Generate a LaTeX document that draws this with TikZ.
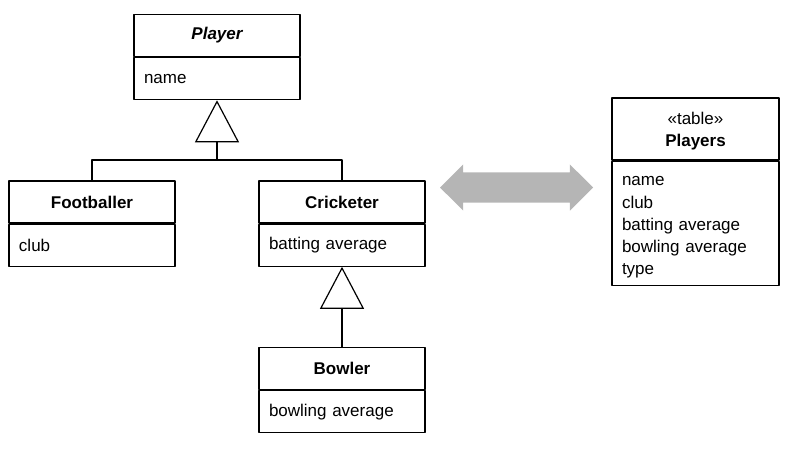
\documentclass[tikz,border=0pt]{standalone}
\usepackage{fontspec}
\setmainfont{Liberation Sans}
\usetikzlibrary{arrows.meta,shapes.arrows}
\definecolor{mapgray}{rgb}{0.71,0.71,0.71}

\begin{document}
\begin{tikzpicture}[line cap=round,line join=round,x=1pt,y=-1pt,line width=1.2pt,
  font=\fontsize{17}{22.3}\selectfont,
  classhead/.style={draw,inner sep=0pt,minimum width=166pt,minimum height=42pt,font=\fontsize{17}{22.3}\selectfont\bfseries},
  classbody/.style={draw,anchor=north,inner xsep=10pt,inner ysep=0pt,text width=146pt,align=left,minimum width=166pt,minimum height=42pt},
  inherit/.style={-{Triangle[open,length=42pt,width=44pt]}}]
\useasboundingbox (0,0) rectangle (807,453);
% classes
\node[classhead] (player) at (217,35.5) {\itshape Player};
\node[classbody] (player-body) at (player.south) {name};
\node[classhead] (footballer) at (92,202) {Footballer};
\node[classbody] (footballer-body) at (footballer.south) {club};
\node[classhead] (cricketer) at (342,202) {Cricketer};
\node[classbody] (cricketer-body) at (cricketer.south) {batting average};
\node[classhead] (bowler) at (342,368.5) {Bowler};
\node[classbody] (bowler-body) at (bowler.south) {bowling average};
% generalisation
\coordinate (jn) at (217,160);
\draw (footballer.north) |- (jn) -| (cricketer.north);
\draw[inherit] (jn) -- (player-body.south);
\draw[inherit] (bowler.north) -- (cricketer-body.south);
% mapping
\node[double arrow,fill=mapgray,inner xsep=0pt,inner ysep=14.5pt,minimum height=153pt,double arrow head extend=8pt] (map) at (516.5,187.5) {};
% table
\node[classhead,minimum width=167pt,minimum height=62pt,align=center] (players) at (695.5,129) {{\mdseries\rule{0pt}{16pt}«table»}\\Players};
\node[classbody,minimum width=167pt,minimum height=124pt,text width=147pt] (players-body) at (players.south) {\rule{0pt}{21pt}name\\club\\batting average\\bowling average\\type\strut};
\end{tikzpicture}
\end{document}
